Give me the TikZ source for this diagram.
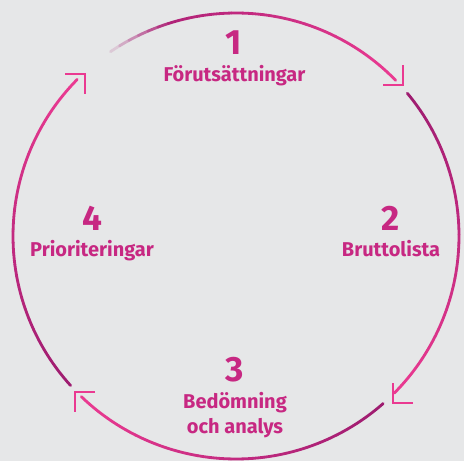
\documentclass[tikz,border=0pt]{standalone}
\usepackage{fontspec}
\setmainfont{Fira Sans}
\usetikzlibrary{calc}
\definecolor{bgc}{RGB}{230,231,232}
\definecolor{plum}{RGB}{158,28,112}
\definecolor{rose}{RGB}{234,58,145}
\definecolor{txt}{RGB}{199,40,130}
\begin{document}
\begin{tikzpicture}[x=0.025cm,y=0.025cm,line width=2pt,line cap=round,
	num/.style={text=txt,font=\fontsize{25}{25}\selectfont\bfseries,anchor=base},
	lbl/.style={text=txt,font=\fontsize{14.2}{17}\selectfont\bfseries,anchor=base},
	chev/.style={rose,line cap=butt,line join=miter}]
	\fill[bgc] (0,0) rectangle (464,461);
	\coordinate (O) at (236,225);
	\foreach \a/\b/\f in {127/44.3/1,39.8/-44.8/0,-48.7/-133.9/0,-137.9/-224.6/0}{
		\foreach \i in {0,...,29}{
			\pgfmathsetmacro\sa{\a+(\b-\a)*\i/30}
			\pgfmathsetmacro\ea{\a+(\b-\a)*(\i+1)/30}
			\pgfmathsetmacro\p{100*\i/29}
			\pgfmathsetmacro\q{\f==1 ? min(100,\i*15) : 100}
			\draw[color=rose!\p!plum!\q!bgc] ($(O)+(\sa:223)$) arc[start angle=\sa,end angle=\ea,radius=223];
		}
	}
	\coordinate (t1) at (403,376);
	\coordinate (t2) at (393,58);
	\coordinate (t3) at (75,69);
	\coordinate (t4) at (85,387);
	\draw[chev] ($(t1)+(-20,0)$)--(t1)--++(0,20);
	\draw[chev] ($(t2)+(20,0)$)--(t2)--++(0,20);
	\draw[chev] ($(t3)+(20,0)$)--(t3)--++(0,-20);
	\draw[chev] ($(t4)+(-20,0)$)--(t4)--++(0,-20);
	\node[num] (n1) at (234,406) {1};
	\node[lbl] (s1) at (234.5,379) {Förutsättningar};
	\node[num] (n2) at (391,231) {2};
	\node[lbl] (s2) at (391,205) {Bruttolista};
	\node[num] (n3) at (235,80) {3};
	\node[lbl] (s3) at (235,53) {Bedömning};
	\node[lbl] (s3b) at (235,28) {och analys};
	\node[num] (n4) at (92,231) {4};
	\node[lbl] (s4) at (92,205) {Prioriteringar};
\end{tikzpicture}
\end{document}
